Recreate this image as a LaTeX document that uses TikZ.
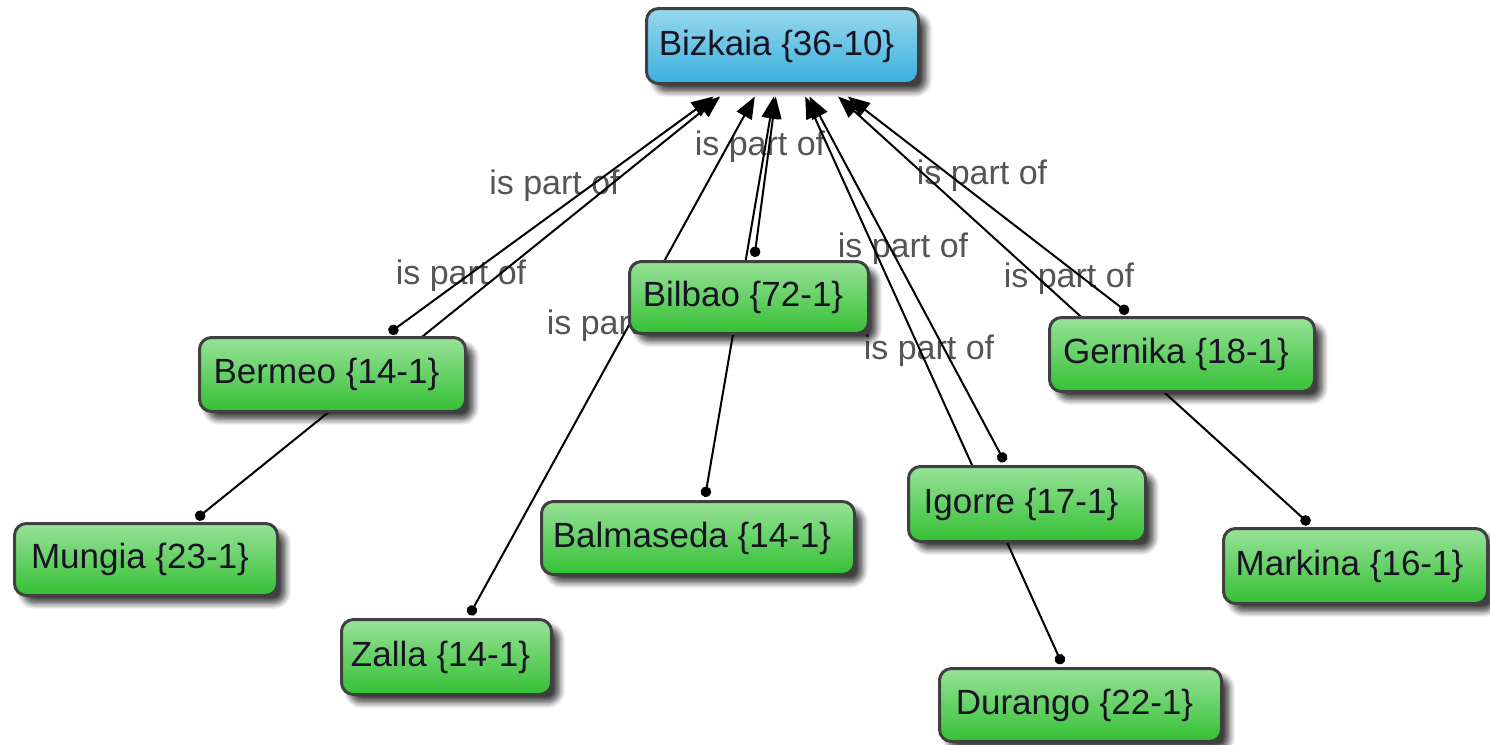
\documentclass[tikz,border=0pt]{standalone}
\usepackage{fontspec}
\setmainfont{Liberation Sans}
\usetikzlibrary{arrows.meta,shadows.blur}
\pgfdeclarelayer{bg}
\pgfsetlayers{bg,main}
\definecolor{gtop}{RGB}{152,226,152}
\definecolor{gbot}{RGB}{52,192,52}
\definecolor{btop}{RGB}{152,216,236}
\definecolor{bbot}{RGB}{58,176,222}
\definecolor{bord}{RGB}{64,64,64}
\definecolor{labgray}{RGB}{85,85,85}
\definecolor{txt}{RGB}{25,20,35}
\tikzset{
  concept/.style={rectangle, rounded corners=12pt, draw=bord, line width=3pt,
    text=txt, font=\fontsize{35}{42}\selectfont, inner sep=0pt,
    outer xsep=1.5pt,
    execute at end node={\hspace*{12pt}},
    blur shadow={shadow xshift=8pt, shadow yshift=-8pt, shadow blur radius=6pt,
      shadow blur steps=8, shadow opacity=75}},
  leaf/.style={concept, top color=gtop, bottom color=gbot, outer ysep=4.5pt},
  root/.style={concept, top color=btop, bottom color=bbot, outer ysep=13pt},
  link/.style={line width=2pt, draw=black,
    {Circle[length=10.5pt]}-{Triangle[length=22pt,width=17pt]}},
  linklabel/.style={text=labgray, font=\fontsize{34}{40}\selectfont, inner sep=0pt}
}
\begin{document}
\begin{tikzpicture}[x=1pt,y=-1pt]
\useasboundingbox (0,0) rectangle (1490,744);
% nodes
\node[root, minimum width=272pt, minimum height=75pt] (bizkaia) at (782.5,46) {Bizkaia \{36-10\}};
\node[leaf, minimum width=266pt, minimum height=74pt] (bermeo) at (332.5,374.5) {Bermeo \{14-1\}};
\node[leaf, minimum width=263pt, minimum height=72pt] (mungia) at (146,559.5) {Mungia \{23-1\}};
\node[leaf, minimum width=239pt, minimum height=72pt] (bilbao) at (749,297.5) {Bilbao \{72-1\}};
\node[leaf, minimum width=210pt, minimum height=75pt] (zalla) at (446.5,657) {Zalla \{14-1\}};
\node[leaf, minimum width=313pt, minimum height=73pt] (balmaseda) at (698,538) {Balmaseda \{14-1\}};
\node[leaf, minimum width=237pt, minimum height=75pt] (igorre) at (1027,504) {Igorre \{17-1\}};
\node[leaf, minimum width=282pt, minimum height=73pt] (durango) at (1080.5,705) {Durango \{22-1\}};
\node[leaf, minimum width=265pt, minimum height=74pt] (gernika) at (1182,354.5) {Gernika \{18-1\}};
\node[leaf, minimum width=264pt, minimum height=75pt] (markina) at (1355.5,566) {Markina \{16-1\}};
\begin{pgfonlayer}{bg}
% labels
\node[linklabel] (l1) at (554.5,186) {is part of};
\node[linklabel] (l2) at (461,276) {is part of};
\node[linklabel] (l3) at (760,147) {is part of};
\node[linklabel] (l4) at (612,326) {is part of};
\node[linklabel] (l5) at (744,279) {is part of};
\node[linklabel] (l6) at (903,249) {is part of};
\node[linklabel] (l7) at (929,351) {is part of};
\node[linklabel] (l8) at (982,176) {is part of};
\node[linklabel] (l9) at (1069,279) {is part of};
% connectors
\draw[link] (bermeo) -- (bizkaia);
\draw[link] (mungia) -- (bizkaia);
\draw[link] (bilbao) -- (bizkaia);
\draw[link] (zalla) -- (bizkaia);
\draw[link] (balmaseda) -- (bizkaia);
\draw[link] (igorre) -- (bizkaia);
\draw[link] (durango) -- (bizkaia);
\draw[link] (gernika) -- (bizkaia);
\draw[link] (markina) -- (bizkaia);
\end{pgfonlayer}
\end{tikzpicture}
\end{document}
